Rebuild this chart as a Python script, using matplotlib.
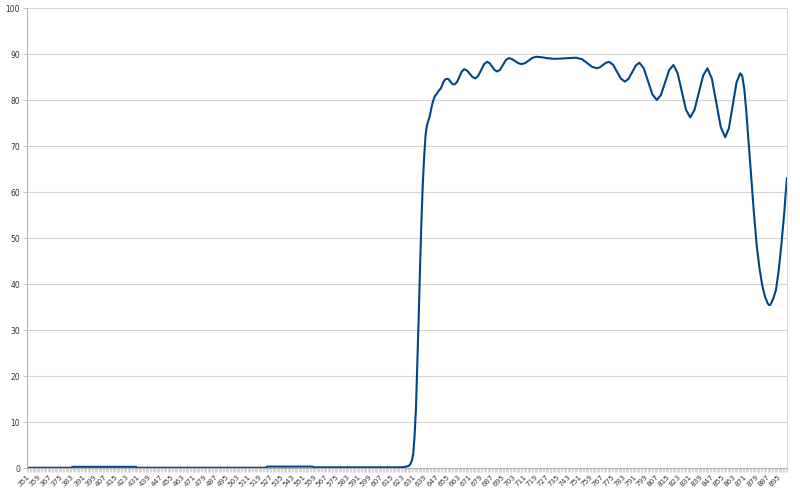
import matplotlib
matplotlib.use("Agg")
import matplotlib.pyplot as plt
from matplotlib.ticker import MultipleLocator, FixedLocator

# Wavelength (nm) and transmission (%)
wavelength = [351, 383, 384, 430, 431, 524, 525, 558, 559, 620, 624, 626, 628, 629, 630,
              631, 632, 633, 634, 635, 636, 637, 638, 639, 640, 641, 642, 643, 644, 645,
              646, 647, 648, 649, 650, 651, 652, 653, 654, 655, 656, 657, 658, 659, 660,
              661, 662.75, 664.5, 666.25, 668, 670, 672, 674, 676, 678, 680.25, 682.4, 684.5,
              686.4, 688.25, 690.1, 692, 694, 696.1, 698.2, 700.3, 702.6, 704.9, 707.2, 709.5,
              712, 714.75, 717.4, 720, 724, 728, 733, 738, 744, 749, 753.5, 757, 760.5, 764,
              766.25, 768.5, 770.75, 773, 775.9, 778.75, 781.6, 784.5, 787.1, 789.75, 792.4, 795,
              798.15, 801.3, 804.45, 807.6, 810.6, 813.6, 816.6, 819.6, 822.65, 825.7, 828.75,
              831.8, 834.9, 838.05, 841.2, 844.3, 847.5, 850.75, 854, 857.2, 859.9, 862.65,
              865.4, 868.1, 869.5, 871, 872.5, 874, 876, 878, 880, 882, 884, 886, 888, 889,
              890, 892, 894, 896, 898, 900, 901, 902]
transmission = [0.05, 0.05, 0.25, 0.25, 0.05, 0.05, 0.3, 0.3, 0.15, 0.15, 0.2, 0.3, 0.5, 0.9, 1.6,
                3.0, 7.0, 13.0, 23.0, 33.0, 44.0, 54.0, 62.0, 68.0, 72.5, 74.5, 75.5, 76.5, 78.0, 79.3,
                80.3, 81.0, 81.3, 81.8, 82.2, 82.5, 83.2, 84.0, 84.4, 84.6, 84.6, 84.4, 84.0, 83.6, 83.4,
                83.4, 83.9, 85.05, 86.2, 86.7, 86.4, 85.7, 85.0, 84.7, 85.2, 86.5, 87.8, 88.3,
                88.0, 87.25, 86.5, 86.2, 86.6, 87.65, 88.7, 89.1, 88.9, 88.45, 88.0, 87.8,
                88.0, 88.6, 89.15, 89.4, 89.3, 89.1, 88.95, 89.0, 89.1, 89.2, 88.85, 88.05, 87.25, 86.9,
                87.1, 87.6, 88.1, 88.3, 87.67, 86.15, 84.63, 84.0, 84.6, 86.05, 87.5, 88.1,
                86.9, 84.05, 81.2, 80.0, 81.1, 83.8, 86.5, 87.6, 85.9, 81.9, 77.9,
                76.2, 77.8, 81.55, 85.3, 86.9, 84.7, 79.4, 74.1, 71.9, 73.9, 78.85,
                83.8, 85.8, 85.3, 82.5, 77.5, 71.5, 63.5, 55.5, 48.5, 43.5, 39.8, 37.3, 35.8, 35.4,
                35.5, 36.8, 38.7, 43.0, 48.8, 55.5, 59.5, 63.0]

x_labels = list(range(351, 896, 8))
y_ticks = list(range(0, 101, 10))

fig = plt.figure(figsize=(8, 4.9), dpi=100)
ax = fig.add_axes([27/800, 22/490, 760/800, 460/490])

ax.plot(wavelength, transmission, color="#004586", lw=1.5, solid_joinstyle="round")

ax.set_xlim(351, 902)
ax.set_ylim(0, 100)

ax.yaxis.set_major_locator(FixedLocator(y_ticks))
ax.xaxis.set_major_locator(FixedLocator(x_labels))
ax.xaxis.set_minor_locator(MultipleLocator(1))
ax.set_xticklabels([str(v) for v in x_labels], rotation=45, ha="right",
                   rotation_mode="anchor", fontsize=5.2, color="#3a3a3a")
ax.set_yticklabels([str(v) for v in y_ticks], fontsize=5.5, color="#333333")

ax.grid(axis="y", color="#d4d4d4", lw=0.8)
ax.set_axisbelow(True)

ax.tick_params(axis="x", which="both", direction="out", length=3, width=0.5,
               color="#c4c4c4", pad=1)
ax.tick_params(axis="y", which="major", direction="out", length=3, width=0.6,
               color="#b3b3b3", pad=2)

for s in ["left", "bottom"]:
    ax.spines[s].set_color("#b3b3b3")
    ax.spines[s].set_linewidth(0.8)
ax.spines["top"].set_visible(False)
ax.spines["right"].set_color("#dddddd")
ax.spines["right"].set_linewidth(0.8)

fig.savefig("out.png", dpi=100, facecolor="white")
